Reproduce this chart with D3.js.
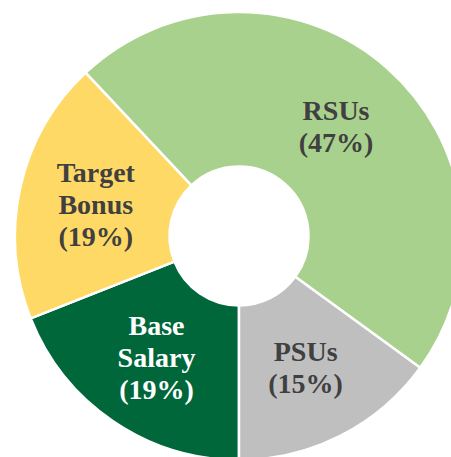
<!DOCTYPE html>
<html>
<head>
<meta charset="utf-8">
<script src="https://cdn.jsdelivr.net/npm/d3@7"></script>
<style>
  html, body { margin: 0; padding: 0; background: #fff; }
  svg { display: block; }
</style>
</head>
<body>
<div id="chart"></div>
<script>
// data, in the order the slices run clockwise from the bottom
const categories = ["Base Salary", "Target Bonus", "RSUs", "PSUs"];
const values = [19, 19, 47, 15];
const labelLines = [["Base", "Salary", "(19%)"], ["Target", "Bonus", "(19%)"], ["RSUs", "(47%)"], ["PSUs", "(15%)"]];

const width = 451, height = 457;
const cx = 239, cy = 236;
const outerR = 224, innerR = 69.5;

const color = d3.scaleOrdinal()
    .domain(categories)
    .range(["#00673a", "#ffd966", "#a9d18e", "#bfbfbf"]);
const textColor = d3.scaleOrdinal()
    .domain(categories)
    .range(["#ffffff", "#404040", "#404040", "#404040"]);

const svg = d3.select("#chart").append("svg")
    .attr("width", width)
    .attr("height", height);

const g = svg.append("g")
    .attr("transform", "translate(" + cx + "," + cy + ")");

const pie = d3.pie()
    .sort(null)
    .value(d => d.value)
    .startAngle(Math.PI)
    .endAngle(3 * Math.PI);

const arc = d3.arc()
    .innerRadius(innerR)
    .outerRadius(outerR);

const data = categories.map((c, i) => ({ name: c, value: values[i], lines: labelLines[i] }));
const arcs = pie(data);

g.selectAll("path.slice")
    .data(arcs)
    .enter().append("path")
    .attr("class", "slice")
    .attr("d", arc)
    .attr("fill", d => color(d.data.name))
    .attr("stroke", "#ffffff")
    .attr("stroke-width", 2.5)
    .attr("stroke-linejoin", "round");

const lineH = 32;
const labels = g.selectAll("text.label")
    .data(arcs)
    .enter().append("text")
    .attr("class", "label")
    .attr("transform", d => "translate(" + arc.centroid(d) + ")")
    .attr("text-anchor", "middle")
    .attr("fill", d => textColor(d.data.name))
    .style("font-family", "'Liberation Serif', 'Times New Roman', serif")
    .style("font-weight", "bold")
    .style("font-size", "28px");

labels.each(function(d) {
    const n = d.data.lines.length;
    d3.select(this).selectAll("tspan")
        .data(d.data.lines)
        .enter().append("tspan")
        .attr("x", 0)
        .attr("y", (t, i) => (i - (n - 1) / 2) * lineH + 9.8)
        .text(t => t);
});
</script>
</body>
</html>
